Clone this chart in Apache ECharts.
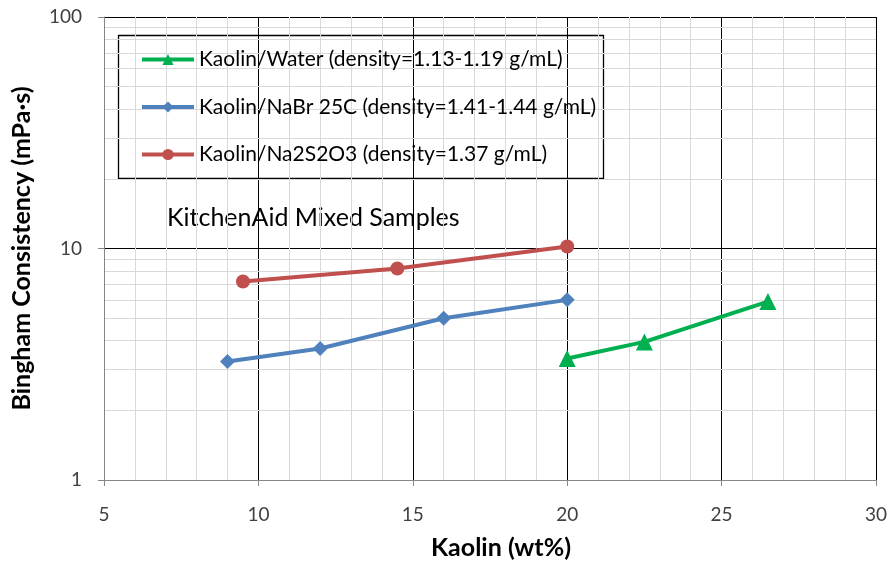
<!DOCTYPE html>
<html>
<head>
<meta charset="utf-8">
<script src="https://cdn.jsdelivr.net/npm/echarts@6/dist/echarts.min.js"></script>
<style>
  html, body { margin: 0; padding: 0; background: #fff; }
  #chart { width: 891px; height: 565px; }
</style>
</head>
<body>
<div id="chart"></div>
<script>
// Kaolin slurry Bingham consistency vs. solids loading
const waterX = [20, 22.5, 26.5];
const waterY = [3.35, 3.95, 5.9];
const nabrX = [9, 12, 16, 20];
const nabrY = [3.25, 3.7, 5.0, 6.0];
const thioX = [9.5, 14.5, 20];
const thioY = [7.2, 8.2, 10.2];

const seriesNames = [
  'Kaolin/Water (density=1.13-1.19 g/mL)',
  'Kaolin/NaBr 25C (density=1.41-1.44 g/mL)',
  'Kaolin/Na2S2O3 (density=1.37 g/mL)'
];
// minor log gridlines between decades
const yMinorLevels = [2, 3, 4, 5, 6, 7, 8, 9, 20, 30, 40, 50, 60, 70, 80, 90];

const FONT = 'Lato';
const zip = (xs, ys) => xs.map((x, i) => [x, ys[i]]);

const chart = echarts.init(document.getElementById('chart'));
chart.setOption({
  animation: false,
  textStyle: { fontFamily: FONT },
  grid: { left: 104, right: 15, top: 17, bottom: 84, containLabel: false },
  xAxis: {
    type: 'value', min: 5, max: 30, interval: 5,
    name: 'Kaolin (wt%)', nameLocation: 'middle', nameGap: 55,
    nameTextStyle: {
      fontFamily: FONT, fontWeight: 'bold', fontSize: 25, color: '#000',
      padding: [0, 0, 0, 22]
    },
    axisLine: { show: true, lineStyle: { color: '#868686', width: 1 } },
    axisTick: { show: true, length: 6, lineStyle: { color: '#868686' } },
    axisLabel: { fontSize: 19, color: '#404040', margin: 25 },
    splitLine: { show: true, lineStyle: { color: '#000', width: 1 } },
    minorTick: { show: false, splitNumber: 5 },
    minorSplitLine: { show: true, lineStyle: { color: '#d9d9d9', width: 1 } }
  },
  yAxis: {
    type: 'log', logBase: 10, min: 1, max: 100,
    name: 'Bingham Consistency (mPa·s)', nameLocation: 'middle', nameGap: 70, nameRotate: 90,
    nameTextStyle: { fontFamily: FONT, fontWeight: 'bold', fontSize: 25, color: '#000' },
    axisLine: { show: true, onZero: false, lineStyle: { color: '#868686', width: 1 } },
    axisTick: { show: true, length: 6, lineStyle: { color: '#868686' } },
    axisLabel: { fontSize: 19, color: '#404040', margin: 22, formatter: v => String(v) },
    splitLine: { show: true, lineStyle: { color: '#000', width: 1 } }
  },
  legend: {
    orient: 'vertical', left: 140, top: 49, padding: 0,
    itemWidth: 52, itemHeight: 14, itemGap: 26.5,
    lineStyle: { width: 4 },
    textStyle: { fontFamily: FONT, fontSize: 21, color: '#000' },
    data: seriesNames
  },
  graphic: {
    z: 3,
    elements: [
      {
        type: 'rect', silent: true,
        shape: { x: 118.5, y: 35.5, width: 485, height: 143 },
        style: { fill: '#fff', stroke: '#000', lineWidth: 1.3 }
      },
      {
        type: 'text', silent: true, x: 167, y: 218,
        style: {
          text: 'KitchenAid Mixed Samples', font: '25px ' + FONT, fill: '#000',
          verticalAlign: 'middle'
        }
      }
    ]
  },
  series: [
    {
      name: '_ygrid', type: 'line', data: [], z: 0, silent: true,
      markLine: {
        z: 0, silent: true, symbol: 'none', animation: false,
        label: { show: false },
        lineStyle: { color: '#d9d9d9', width: 1, type: 'solid' },
        data: yMinorLevels.map(v => ({ yAxis: v }))
      }
    },
    {
      name: seriesNames[0], type: 'line', data: zip(waterX, waterY),
      color: '#00B050', symbol: 'triangle', symbolSize: 17,
      lineStyle: { width: 4 }, itemStyle: { color: '#00B050' }
    },
    {
      name: seriesNames[1], type: 'line', data: zip(nabrX, nabrY),
      color: '#4F81BD', symbol: 'diamond', symbolSize: 15,
      lineStyle: { width: 4 }, itemStyle: { color: '#4F81BD' }
    },
    {
      name: seriesNames[2], type: 'line', data: zip(thioX, thioY),
      color: '#C0504D', symbol: 'circle', symbolSize: 14,
      lineStyle: { width: 4 }, itemStyle: { color: '#C0504D' }
    }
  ]
});
</script>
</body>
</html>
